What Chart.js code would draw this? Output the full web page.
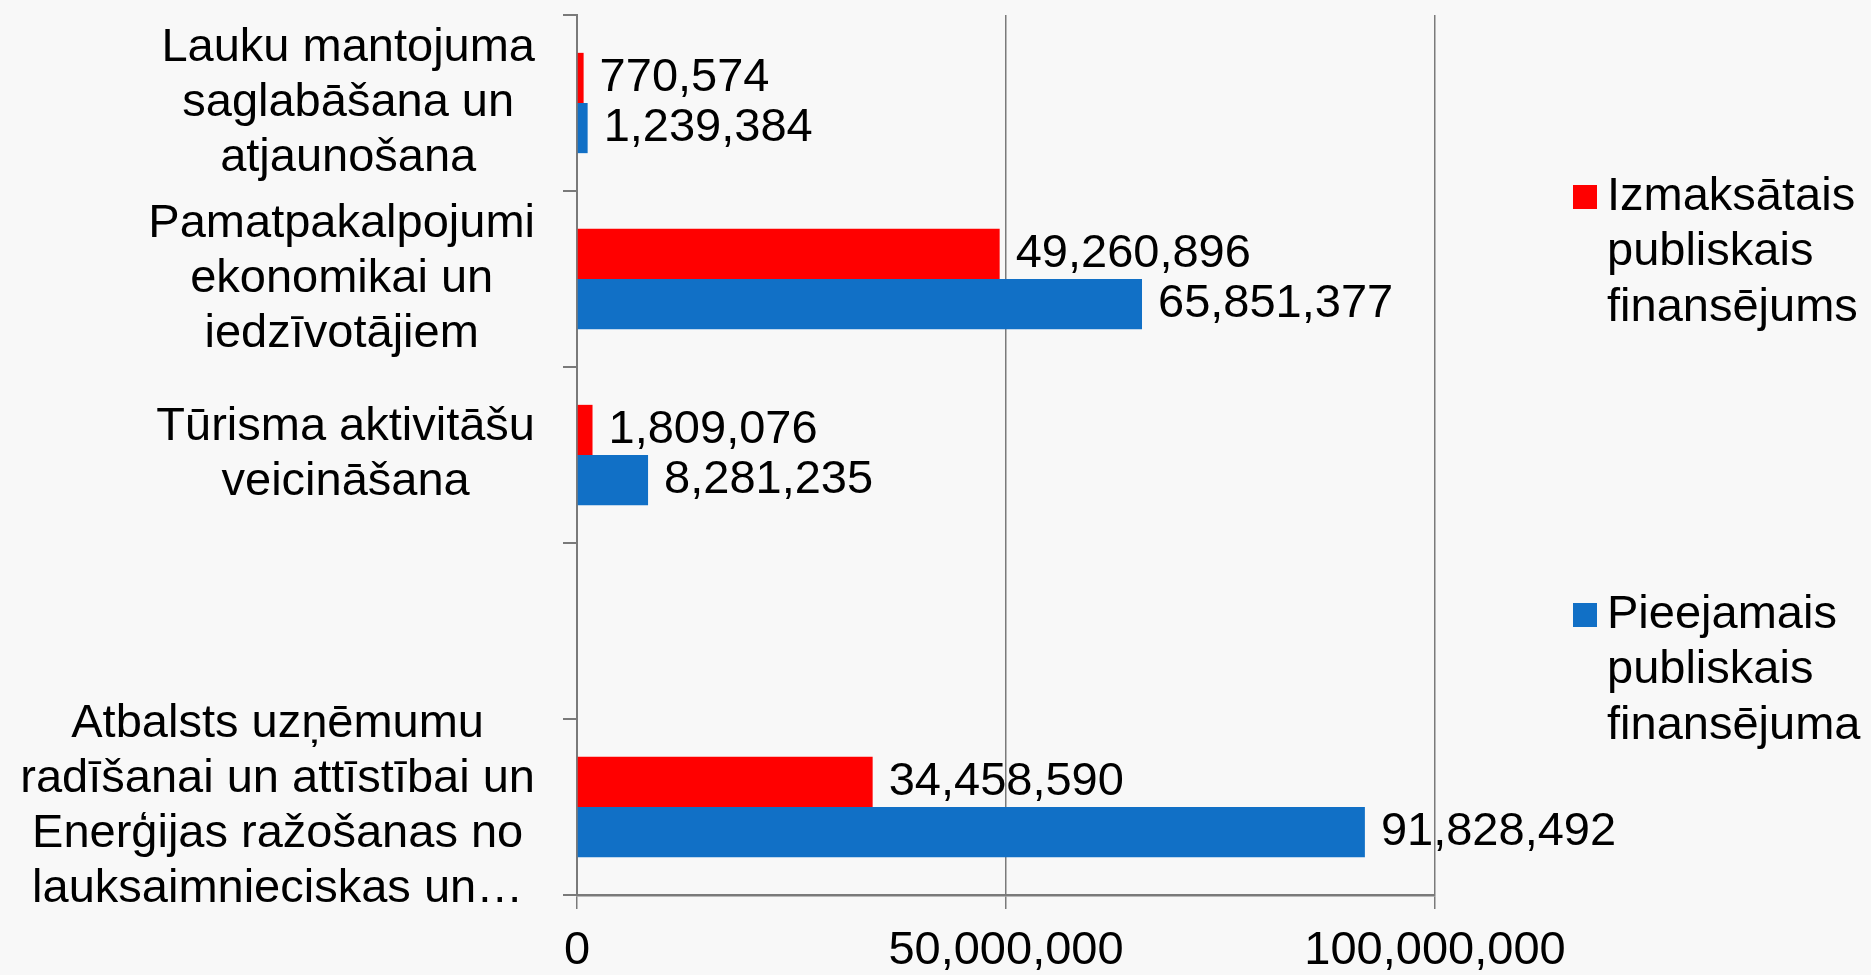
<!DOCTYPE html>
<html>
<head>
<meta charset="utf-8">
<script src="https://cdn.jsdelivr.net/npm/chart.js@4.4.0/dist/chart.umd.min.js"></script>
<style>
    html, body { margin: 0; padding: 0; background: #f8f8f8; }
    #wrap { width: 1871px; height: 975px; }
</style>
</head>
<body>
<div id="wrap"><canvas id="fundsChart"></canvas></div>
<script>
// categories, top to bottom (the 4th slot is empty in the original)
const categories = [
    ["Lauku mantojuma", "saglabāšana un", "atjaunošana"],
    ["Pamatpakalpojumi", "ekonomikai un", "iedzīvotājiem"],
    ["Tūrisma aktivitāšu", "veicināšana"],
    [""],
    ["Atbalsts uzņēmumu", "radīšanai un attīstībai un", "Enerģijas ražošanas no", "lauksaimnieciskas un…"]
];
const paidValues = [770574, 49260896, 1809076, null, 34458590];
const availableValues = [1239384, 65851377, 8281235, null, 91828492];
const seriesNames = ["Izmaksātais publiskais finansējums", "Pieejamais publiskais finansējuma"];
const xTicks = [0, 50000000, 100000000];

const FONT = "47px 'Liberation Sans', Arial, sans-serif";
const fmt = v => v.toLocaleString("en-US");

// category labels: each block right aligned, lines centred inside the block
const categoryLabels = {
    id: "categoryLabels",
    afterDraw(chart) {
        const ctx = chart.ctx;
        const y = chart.scales.y;
        ctx.save();
        ctx.font = FONT;
        ctx.fillStyle = "#000";
        ctx.textAlign = "center";
        ctx.textBaseline = "middle";
        const right = y.right - 42;
        chart.data.labels.forEach((lines, i) => {
            const w = Math.max(...lines.map(l => ctx.measureText(l).width));
            const cy = y.getPixelForTick(i);
            lines.forEach((l, k) => {
                ctx.fillText(l, right - w / 2, cy + (k - (lines.length - 1) / 2) * 55);
            });
        });
        ctx.restore();
    }
};

const valueLabels = {
    id: "valueLabels",
    afterDatasetsDraw(chart) {
        const ctx = chart.ctx;
        ctx.save();
        ctx.font = FONT;
        ctx.fillStyle = "#000";
        ctx.textAlign = "left";
        ctx.textBaseline = "middle";
        chart.data.datasets.forEach((ds, i) => {
            chart.getDatasetMeta(i).data.forEach((bar, j) => {
                const v = ds.data[j];
                if (v == null) return;
                ctx.fillText(fmt(v), bar.x + 16, bar.y);
            });
        });
        ctx.restore();
    }
};

// legend on the right with word-wrapped labels
const sideLegend = {
    id: "sideLegend",
    afterDraw(chart) {
        const ctx = chart.ctx;
        const area = chart.chartArea;
        const tops = [197, 615];
        ctx.save();
        ctx.font = FONT;
        ctx.textAlign = "left";
        ctx.textBaseline = "middle";
        chart.data.datasets.forEach((ds, i) => {
            const y0 = tops[i];
            ctx.fillStyle = ds.backgroundColor;
            ctx.fillRect(area.right + 138, y0 - 12, 24, 24);
            ctx.fillStyle = "#000";
            ds.label.split(" ").forEach((word, k) => {
                ctx.fillText(word, area.right + 172, y0 + k * 55.5);
            });
        });
        ctx.restore();
    }
};

const ctx = document.getElementById("fundsChart").getContext("2d");

new Chart(ctx, {
    type: "bar",
    data: {
        labels: categories,
        datasets: [{
            label: seriesNames[0],
            data: paidValues,
            backgroundColor: "#ff0000",
            categoryPercentage: 0.57,
            barPercentage: 1.0
        }, {
            label: seriesNames[1],
            data: availableValues,
            backgroundColor: "#1170c6",
            categoryPercentage: 0.57,
            barPercentage: 1.0
        }]
    },
    options: {
        indexAxis: "y",
        responsive: true,
        maintainAspectRatio: false,
        animation: false,
        layout: { padding: { top: 15, right: 436, bottom: 0, left: 0 } },
        plugins: {
            legend: { display: false },
            tooltip: { enabled: false }
        },
        scales: {
            x: {
                min: xTicks[0],
                max: xTicks[xTicks.length - 1],
                afterBuildTicks: s => { s.ticks = xTicks.map(v => ({ value: v })); },
                afterFit: s => { s.height = 80; },
                grid: { color: "#7a7a7a", lineWidth: 1.5, tickLength: 14 },
                border: { display: true, color: "#7a7a7a", width: 2.5 },
                ticks: {
                    color: "#000",
                    padding: 14,
                    maxRotation: 0,
                    font: { family: "'Liberation Sans', Arial, sans-serif", size: 47 },
                    callback: v => fmt(v)
                }
            },
            y: {
                afterFit: s => { s.width = 577; },
                grid: { drawOnChartArea: false, drawTicks: true, tickLength: 14, color: "#7a7a7a", lineWidth: 2, offset: true },
                border: { display: true, color: "#7a7a7a", width: 2 },
                ticks: { display: false }
            }
        }
    },
    plugins: [categoryLabels, valueLabels, sideLegend]
});
</script>
</body>
</html>
